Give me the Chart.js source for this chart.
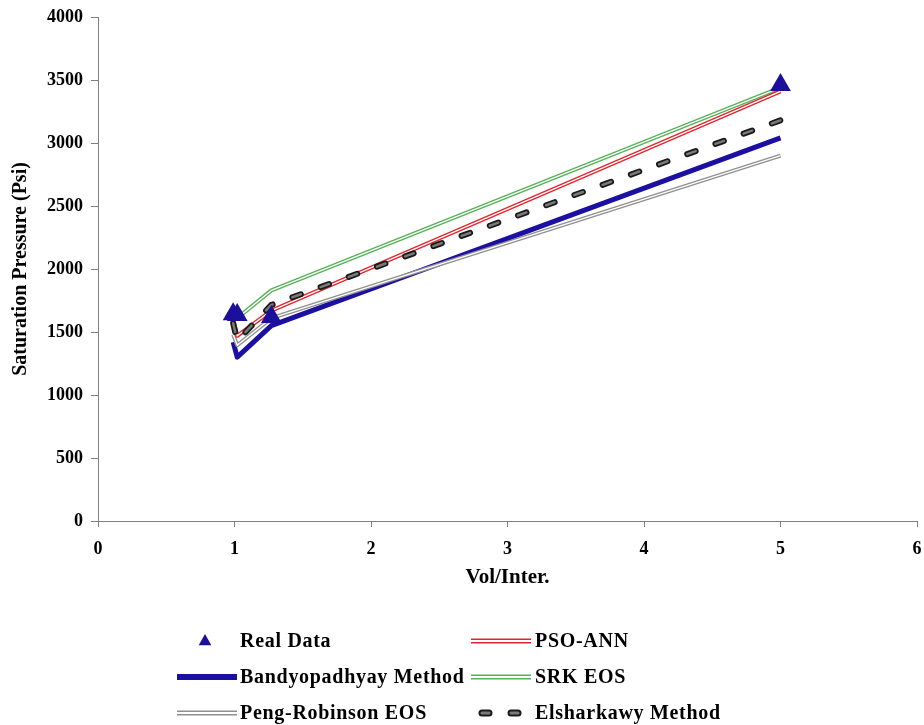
<!DOCTYPE html>
<html>
<head>
<meta charset="utf-8">
<script src="https://cdn.jsdelivr.net/npm/chart.js@4/dist/chart.umd.min.js"></script>
<style>
  html, body { margin: 0; padding: 0; background: #fff; }
  #wrap { position: relative; width: 924px; height: 725px; }
</style>
</head>
<body>
<div id="wrap"><canvas id="chart"></canvas></div>
<script>
'use strict';

// ── Data ──────────────────────────────────────────────────────────────────────

const volInter      = [0.99, 1.02, 1.27, 5.0];
const realData      = [1640, 1635, 1620, 3460];
const psoAnn        = [1600, 1470, 1670, 3410];
const bandyopadhyay = [1420, 1300, 1550, 3040];
const srkEos        = [1640, 1610, 1830, 3440];
const pengRobinson  = [1480, 1395, 1610, 2900];
const elsharkawy    = [1570, 1430, 1715, 3180];

const xTicks = [0, 1, 2, 3, 4, 5, 6];
const yTicks = [0, 500, 1000, 1500, 2000, 2500, 3000, 3500, 4000];

const FONT = "'Liberation Serif', 'Times New Roman', serif";

const pts = ys => volInter.map((x, i) => ({ x, y: ys[i] }));

// ── Double-stroke lines (outline colour with a lighter core) ──────────────────

const innerStroke = {
  id: 'innerStroke',
  afterDatasetDraw(chart, args) {
    const ds = chart.data.datasets[args.index];
    if (!ds.inner) return;
    const ctx = chart.ctx;
    const p = args.meta.data;
    ctx.save();
    ctx.beginPath();
    p.forEach((pt, i) => (i ? ctx.lineTo(pt.x, pt.y) : ctx.moveTo(pt.x, pt.y)));
    ctx.strokeStyle = ds.inner.color;
    ctx.lineWidth = ds.inner.width;
    ctx.setLineDash(ds.borderDash || []);
    ctx.lineCap = ds.borderCapStyle || 'butt';
    ctx.lineJoin = 'round';
    ctx.stroke();
    ctx.restore();
  },
};

// ── Legend (two columns, three rows under the plot) ──────────────────────────

const legendSlots = [
  { col: 0, row: 0 }, { col: 1, row: 0 },
  { col: 0, row: 1 }, { col: 1, row: 1 },
  { col: 0, row: 2 }, { col: 1, row: 2 },
];
const legendCols = [{ x1: 177, x2: 237, text: 240 }, { x1: 471, x2: 531, text: 535 }];
const legendRows = [641, 677, 713];

function drawSwatch(ctx, ds, x1, x2, y) {
  if (ds.showLine === false) {
    const cx = (x1 + x2) / 2 - 2, r = 7;
    ctx.beginPath();
    ctx.moveTo(cx, y - r);
    ctx.lineTo(cx + r * 0.9, y + r * 0.6);
    ctx.lineTo(cx - r * 0.9, y + r * 0.6);
    ctx.closePath();
    ctx.fillStyle = ds.backgroundColor;
    ctx.fill();
    return;
  }
  const start = ds.borderDash ? x1 + 11 : x1;
  const stroke = (color, width) => {
    ctx.beginPath();
    ctx.moveTo(start, y);
    ctx.lineTo(x2, y);
    ctx.strokeStyle = color;
    ctx.lineWidth = width;
    ctx.setLineDash(ds.borderDash ? [7, 22] : []);
    ctx.lineCap = ds.borderCapStyle || 'butt';
    ctx.stroke();
  };
  stroke(ds.borderColor, ds.borderWidth + 1);
  if (ds.inner) stroke(ds.inner.color, ds.inner.width + 0.6);
}

const bottomLegend = {
  id: 'bottomLegend',
  afterDraw(chart) {
    const ctx = chart.ctx;
    ctx.save();
    chart.data.datasets.forEach((ds, i) => {
      const slot = legendSlots[i];
      const col = legendCols[slot.col];
      const y = legendRows[slot.row];
      drawSwatch(ctx, ds, col.x1, col.x2, y);
      ctx.setLineDash([]);
      ctx.fillStyle = '#000';
      ctx.font = `bold 20px ${FONT}`;
      ctx.letterSpacing = '0.7px';
      ctx.textBaseline = 'middle';
      ctx.textAlign = 'left';
      ctx.fillText(ds.label, col.text, y + 1);
    });
    ctx.restore();
  },
};

// ── Chart ─────────────────────────────────────────────────────────────────────

const lineBase = { showLine: true, pointRadius: 0, pointHoverRadius: 0, borderJoinStyle: 'round', fill: false };
const tickFont = { family: FONT, size: 18, weight: 'bold' };

new Chart(document.getElementById('chart'), {
  type: 'scatter',
  data: {
    datasets: [
      {
        label: 'Real Data',
        data: pts(realData),
        showLine: false,
        pointStyle: 'triangle',
        pointRadius: 12,
        backgroundColor: '#1c0f9c',
        borderColor: '#1c0f9c',
        borderWidth: 0,
        order: 0,
      },
      {
        ...lineBase,
        label: 'PSO-ANN',
        data: pts(psoAnn),
        borderColor: '#e5232b',
        borderWidth: 4,
        inner: { color: '#fff', width: 1.4 },
        order: 2,
      },
      {
        ...lineBase,
        label: 'Bandyopadhyay Method',
        data: pts(bandyopadhyay),
        borderColor: '#1c10a2',
        borderWidth: 5,
        order: 5,
      },
      {
        ...lineBase,
        label: 'SRK EOS',
        data: pts(srkEos),
        borderColor: '#55b157',
        borderWidth: 4,
        inner: { color: '#fff', width: 1.4 },
        order: 3,
      },
      {
        ...lineBase,
        label: 'Peng-Robinson EOS',
        data: pts(pengRobinson),
        borderColor: '#8f8f8f',
        borderWidth: 4,
        inner: { color: '#fff', width: 1.4 },
        order: 4,
      },
      {
        ...lineBase,
        label: 'Elsharkawy Method',
        data: pts(elsharkawy),
        borderColor: '#1a1a1a',
        borderWidth: 6,
        borderDash: [9, 21],
        borderCapStyle: 'round',
        inner: { color: '#7a7a7a', width: 2.5 },
        order: 1,
      },
    ],
  },
  plugins: [innerStroke, bottomLegend],
  options: {
    responsive: true,
    maintainAspectRatio: false,
    animation: false,
    layout: { autoPadding: false, padding: { left: 0, top: 17, right: 7, bottom: 124 } },
    plugins: { legend: { display: false }, tooltip: { enabled: false } },
    scales: {
      x: {
        type: 'linear',
        min: xTicks[0],
        max: xTicks[xTicks.length - 1],
        afterBuildTicks: s => { s.ticks = xTicks.map(v => ({ value: v })); },
        afterFit: s => { s.height = 80; s.paddingLeft = 0; s.paddingRight = 0; },
        grid: { drawOnChartArea: false, drawTicks: true, tickLength: 6, color: '#808080' },
        border: { color: '#808080', width: 1 },
        ticks: { color: '#000', font: tickFont, padding: 12, maxRotation: 0, callback: v => String(v) },
        title: {
          display: true,
          text: 'Vol/Inter.',
          color: '#000',
          font: { family: FONT, size: 21, weight: 'bold' },
          padding: { top: 0, bottom: 11 },
        },
      },
      y: {
        type: 'linear',
        min: yTicks[0],
        max: yTicks[yTicks.length - 1],
        afterBuildTicks: s => { s.ticks = yTicks.map(v => ({ value: v })); },
        afterFit: s => { s.width = 98; s.paddingTop = 0; s.paddingBottom = 0; },
        grid: { drawOnChartArea: false, drawTicks: true, tickLength: 7, color: '#808080' },
        border: { color: '#808080', width: 1 },
        ticks: { color: '#000', font: tickFont, padding: 8, callback: v => String(v) },
        title: {
          display: true,
          text: 'Saturation Pressure (Psi)',
          color: '#000',
          font: { family: FONT, size: 20, weight: 'bold' },
          padding: { top: 9, bottom: 0 },
        },
      },
    },
  },
});
</script>
</body>
</html>
